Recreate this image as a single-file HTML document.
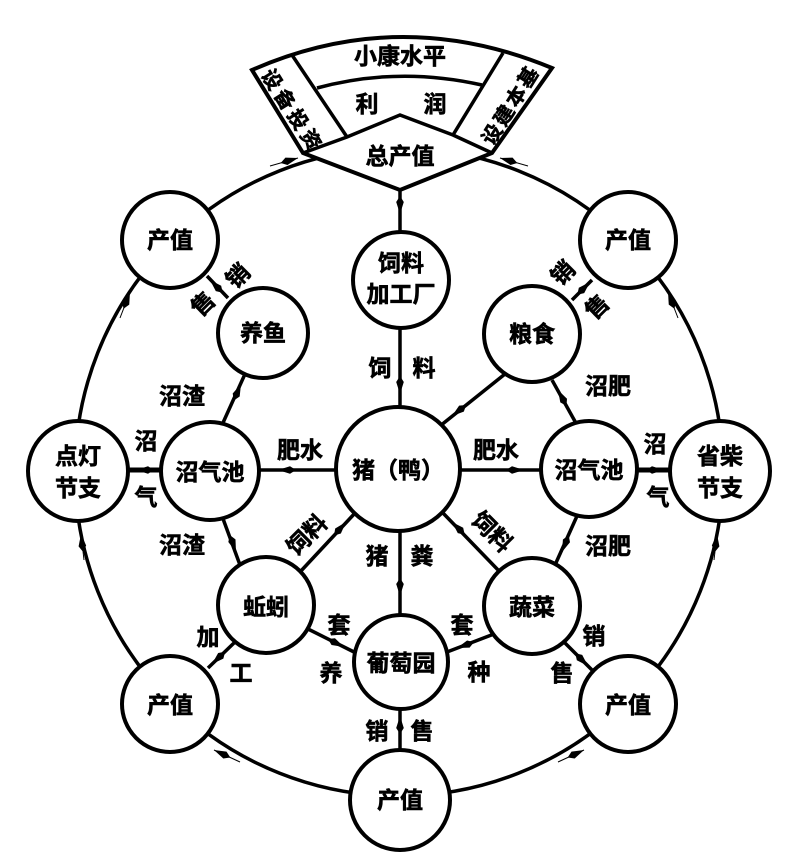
<!DOCTYPE html>
<html><head><meta charset="utf-8"><style>
html,body{margin:0;padding:0;background:#fff}
svg{display:block}
text{font-family:"Liberation Sans","Noto Sans CJK SC",sans-serif;font-weight:bold;fill:#000;text-anchor:middle;dominant-baseline:central}
</style></head><body>
<svg width="793" height="862" viewBox="0 0 793 862" xmlns="http://www.w3.org/2000/svg">
<defs>
<marker id="a" markerUnits="userSpaceOnUse" markerWidth="22" markerHeight="10" refX="18" refY="5" orient="auto">
<path d="M0,5 L6,1.2 L18,5 L6,8.8 Z" fill="#000"/>
</marker>
</defs>
<g stroke="#000" stroke-width="3.5" fill="none">
<!-- outer ring -->
<circle cx="399" cy="472" r="324"/>
<!-- fan -->
<path d="M252,70 Q400,5 552,68 L492,153 L400,190 L303,153 Z" fill="#fff" stroke-width="4"/>
<line x1="292" y1="55" x2="347" y2="137"/>
<line x1="503" y1="53" x2="453" y2="135"/>
<path d="M317,88 Q398,66 482,85"/>
<polyline points="303,153 347,137 400,115 453,135 492,153"/>
<!-- connectors -->
<line x1="400" y1="190" x2="400" y2="232"/>
<line x1="400" y1="328" x2="400" y2="406"/>
<line x1="505" y1="374" x2="440" y2="426"/>
<line x1="336" y1="470" x2="256" y2="470"/>
<line x1="460" y1="470" x2="542" y2="470"/>
<line x1="163" y1="470" x2="126" y2="470" stroke-width="5"/>
<line x1="637" y1="470" x2="670" y2="470" stroke-width="5"/>
<line x1="222" y1="425" x2="245" y2="374"/>
<line x1="222" y1="516" x2="240" y2="565"/>
<line x1="577" y1="425" x2="552" y2="380"/>
<line x1="577" y1="516" x2="555" y2="565"/>
<line x1="300" y1="572" x2="356" y2="512"/>
<line x1="500" y1="572" x2="442" y2="512"/>
<line x1="400" y1="532" x2="400" y2="614"/>
<line x1="306" y1="628" x2="354" y2="652"/>
<line x1="494" y1="634" x2="447" y2="652"/>
<line x1="400" y1="708" x2="400" y2="751"/>
<line x1="235" y1="642" x2="208" y2="668"/>
<line x1="565" y1="643" x2="592" y2="670"/>
<line x1="228" y1="298" x2="207" y2="276"/>
<line x1="572" y1="300" x2="592" y2="280"/>
</g>
<!-- arrowheads -->
<g stroke="#000" stroke-width="1" fill="none">
<line x1="400" y1="195" x2="400" y2="214" marker-end="url(#a)"/>
<line x1="400" y1="370" x2="400" y2="394" marker-end="url(#a)"/>
<line x1="470" y1="402" x2="452" y2="416" marker-end="url(#a)"/>
<line x1="300" y1="470" x2="278" y2="470" marker-end="url(#a)"/>
<line x1="500" y1="470" x2="524" y2="470" marker-end="url(#a)"/>
<line x1="158" y1="470" x2="136" y2="470" marker-end="url(#a)"/>
<line x1="642" y1="470" x2="664" y2="470" marker-end="url(#a)"/>
<line x1="234" y1="400" x2="241" y2="384" marker-end="url(#a)"/>
<line x1="228" y1="530" x2="236" y2="552" marker-end="url(#a)"/>
<line x1="566" y1="405" x2="558" y2="390" marker-end="url(#a)"/>
<line x1="570" y1="532" x2="562" y2="552" marker-end="url(#a)"/>
<line x1="330" y1="540" x2="346" y2="522" marker-end="url(#a)"/>
<line x1="470" y1="540" x2="452" y2="522" marker-end="url(#a)"/>
<line x1="400" y1="570" x2="400" y2="596" marker-end="url(#a)"/>
<line x1="320" y1="635" x2="344" y2="647" marker-end="url(#a)"/>
<line x1="480" y1="640" x2="457" y2="648" marker-end="url(#a)"/>
<line x1="400" y1="740" x2="400" y2="716" marker-end="url(#a)"/>
<line x1="228" y1="649" x2="212" y2="664" marker-end="url(#a)"/>
<line x1="572" y1="650" x2="588" y2="666" marker-end="url(#a)"/>
<line x1="222" y1="292" x2="210" y2="280" marker-end="url(#a)"/>
<line x1="578" y1="294" x2="590" y2="282" marker-end="url(#a)"/>
<line x1="270" y1="166" x2="298" y2="158" marker-end="url(#a)"/>
<line x1="528" y1="166" x2="500" y2="158" marker-end="url(#a)"/>
<line x1="120" y1="318" x2="130" y2="292" marker-end="url(#a)"/>
<line x1="678" y1="318" x2="668" y2="292" marker-end="url(#a)"/>
<line x1="84" y1="560" x2="81" y2="534" marker-end="url(#a)"/>
<line x1="714" y1="560" x2="717" y2="534" marker-end="url(#a)"/>
<line x1="240" y1="762" x2="214" y2="750" marker-end="url(#a)"/>
<line x1="558" y1="762" x2="584" y2="750" marker-end="url(#a)"/>
</g>
<!-- nodes -->
<g stroke="#000" stroke-width="4" fill="#fff">
<circle cx="170" cy="240" r="48"/>
<circle cx="401" cy="280" r="48"/>
<circle cx="628" cy="240" r="48"/>
<circle cx="263" cy="333" r="45"/>
<circle cx="532" cy="334" r="48"/>
<circle cx="78" cy="471" r="50"/>
<circle cx="210" cy="471" r="49"/>
<circle cx="398" cy="469" r="62"/>
<circle cx="589" cy="469" r="48"/>
<circle cx="720" cy="471" r="50"/>
<circle cx="266" cy="605" r="48"/>
<circle cx="532" cy="606" r="48"/>
<circle cx="401" cy="662" r="47"/>
<circle cx="170" cy="704" r="48"/>
<circle cx="628" cy="704" r="48"/>
<circle cx="400" cy="800" r="50"/>
</g>
<!-- text -->
<g font-size="23" stroke="#000" stroke-width="0.6">
<text x="400" y="56">小康水平</text>
<text x="367" y="104">利</text><text x="435" y="104">润</text>
<text x="400" y="156">总产值</text>
<g font-size="20">
<text x="271" y="80" transform="rotate(58 271 80)">设</text>
<text x="284" y="100" transform="rotate(58 284 100)">备</text>
<text x="297" y="120" transform="rotate(58 297 120)">投</text>
<text x="310" y="140" transform="rotate(58 310 140)">资</text>
<text x="529" y="78" transform="rotate(-58 529 78)">基</text>
<text x="517" y="97" transform="rotate(-58 517 97)">本</text>
<text x="505" y="116" transform="rotate(-58 505 116)">建</text>
<text x="493" y="135" transform="rotate(-58 493 135)">设</text>
</g>
<text x="170" y="240">产值</text>
<text x="628" y="240">产值</text>
<text x="401" y="263">饲料</text>
<text x="401" y="294">加工厂</text>
<text x="263" y="333">养鱼</text>
<text x="532" y="334">粮食</text>
<text x="78" y="456">点灯</text><text x="78" y="488">节支</text>
<text x="720" y="456">省柴</text><text x="720" y="488">节支</text>
<text x="210" y="472">沼气池</text>
<text x="589" y="470">沼气池</text>
<text x="398" y="470">猪（鸭）</text>
<text x="266" y="607">蚯蚓</text>
<text x="532" y="607">蔬菜</text>
<text x="401" y="663">葡萄园</text>
<text x="170" y="705">产值</text>
<text x="628" y="705">产值</text>
<text x="400" y="800">产值</text>
<text x="380" y="368">饲</text><text x="424" y="368">料</text>
<text x="300" y="450">肥水</text><text x="496" y="450">肥水</text>
<text x="146" y="441">沼</text><text x="146" y="497">气</text>
<text x="655" y="444">沼</text><text x="658" y="497">气</text>
<text x="182" y="396">沼渣</text><text x="182" y="545">沼渣</text>
<text x="608" y="386">沼肥</text><text x="608" y="546">沼肥</text>
<text x="307" y="535" transform="rotate(-45 307 535)">饲料</text>
<text x="492" y="532" transform="rotate(45 492 532)">饲料</text>
<text x="377" y="556">猪</text><text x="422" y="556">粪</text>
<text x="339" y="625">套</text><text x="331" y="673">养</text>
<text x="462" y="625">套</text><text x="479" y="672">种</text>
<text x="377" y="731">销</text><text x="422" y="731">售</text>
<text x="208" y="637">加</text><text x="241" y="673">工</text>
<text x="594" y="636">销</text><text x="562" y="673">售</text>
<text x="238" y="276" transform="rotate(-45 238 276)">销</text>
<text x="203" y="304" transform="rotate(-45 203 304)">售</text>
<text x="563" y="273" transform="rotate(-45 563 273)">销</text>
<text x="597" y="307" transform="rotate(-45 597 307)">售</text>
</g>
</svg>
</body></html>
